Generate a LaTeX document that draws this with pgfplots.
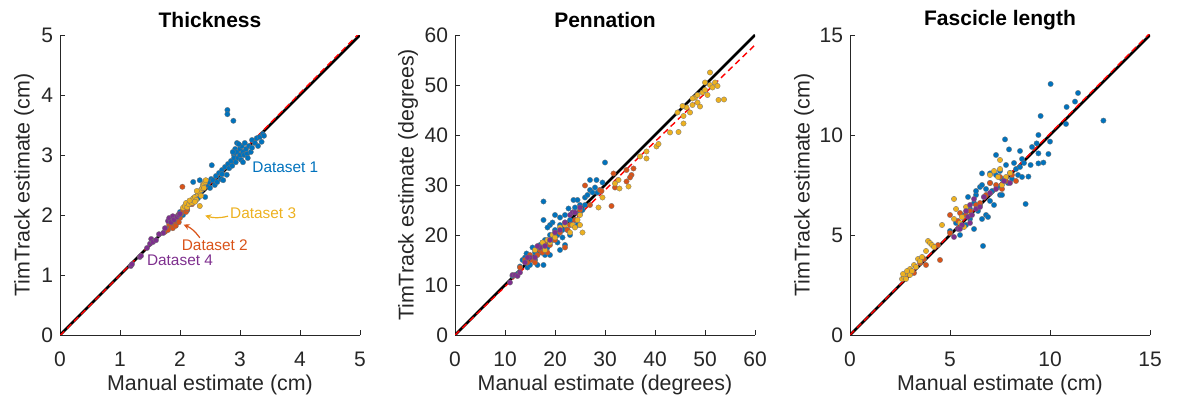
\documentclass[border=0pt]{standalone}
\usepackage{pgfplots}
\pgfplotsset{compat=1.18}
\usepackage{fontspec}
\setmainfont{Liberation Sans}
\usetikzlibrary{arrows.meta}
\definecolor{c1}{rgb}{0,0.447,0.741}
\definecolor{c2}{rgb}{0.85,0.325,0.098}
\definecolor{c3}{rgb}{0.929,0.694,0.125}
\definecolor{c4}{rgb}{0.494,0.184,0.556}
\definecolor{axgray}{rgb}{0.15,0.15,0.15}
\tikzset{ann/.style={inner sep=0pt, font=\fontsize{7.7}{9}\selectfont}}
\pgfplotsset{
  myax/.style={width=150pt,height=150pt,scale only axis,
    axis lines=left, axis line style={-,draw=axgray,line width=0.4pt},
    tick align=inside, tick style={draw=axgray,line width=0.4pt},
    major tick length=2.5pt, enlargelimits=false,
    /pgf/number format/assume math mode=true,
    tick label style={font=\fontsize{10.5}{12}\selectfont, text=axgray},
    label style={font=\fontsize{10.7}{12}\selectfont, text=axgray},
    every axis title shift=0pt,
    title style={font=\bfseries\fontsize{10.5}{12}\selectfont, at={(axis description cs:0.5,1)}, anchor=center, yshift=7.5pt},
    xlabel style={at={(axis description cs:0.5,0)}, anchor=center, yshift=-25pt},
    xticklabel style={yshift=-5pt},
  },
  pts/.style={only marks, mark=*, mark size=1.35pt, mark options={draw=black!55, line width=0.15pt, fill=#1}},
  idline/.style={black, line width=1.4pt},
  fitline/.style={red, line width=0.7pt, dash pattern=on 3pt off 2pt},
}
\begin{document}
\begin{tikzpicture}
\useasboundingbox (-30pt,-32.5pt) rectangle (559pt,167.5pt);
% ---------------- Thickness ----------------
\begin{axis}[myax, at={(0pt,0pt)}, xmin=0,xmax=5,ymin=0,ymax=5,
  xtick={0,1,2,3,4,5}, ytick={0,1,2,3,4,5},
  title={Thickness}, xlabel={Manual estimate (cm)}, ylabel={TimTrack estimate (cm)},
  ylabel style={at={([xshift=-18pt]axis description cs:0,0.5)}, anchor=center}]
\addplot[pts=c1] coordinates {(1.85,1.9)(1.9,1.95)(1.95,1.88)(2.0,2.05)(2.05,2.0)(2.1,2.15)(2.12,2.08)(2.15,2.2)(2.2,2.25)(2.22,2.55)(2.25,2.3)(2.3,2.28)(2.33,2.58)(2.35,2.4)(2.4,2.45)(2.42,2.3)(2.45,2.5)(2.48,2.55)(2.5,2.45)(2.52,2.6)(2.53,2.83)(2.55,2.58)(2.58,2.5)(2.6,2.65)(2.62,2.55)(2.65,2.7)(2.68,2.6)(2.7,2.75)(2.72,2.58)(2.75,2.8)(2.78,2.67)(2.79,3.75)(2.79,3.68)(2.8,2.85)(2.82,2.78)(2.85,2.9)(2.87,2.82)(2.89,3.57)(2.9,3.0)(2.9,2.95)(2.92,3.1)(2.93,2.88)(2.95,3.05)(2.95,3.2)(2.97,2.95)(3.0,3.1)(3.0,3.0)(3.02,2.92)(3.03,3.15)(3.05,3.05)(3.07,3.0)(3.08,3.2)(3.1,3.1)(3.12,3.02)(3.13,2.95)(3.15,3.15)(3.18,3.05)(3.2,3.25)(3.2,3.12)(3.25,3.2)(3.28,3.28)(3.3,3.15)(3.33,3.3)(3.36,3.22)(3.38,3.35)(3.4,3.32)(3.05,2.88)(2.98,3.18)(2.88,3.05)(2.7,2.68)};
\addplot[pts=c2] coordinates {(1.75,1.72)(1.78,1.78)(1.8,1.75)(1.82,1.85)(1.85,1.8)(1.87,1.9)(1.9,1.85)(1.92,1.95)(1.95,1.92)(1.97,2.0)(2.0,1.95)(2.02,2.02)(2.05,2.08)(2.04,2.47)(2.1,2.05)(1.88,1.78)(1.93,1.82)(1.98,1.88)(2.12,2.1)(2.2,2.18)};
\addplot[pts=c3] coordinates {(2.05,2.12)(2.08,2.15)(2.1,2.2)(2.12,2.13)(2.15,2.18)(2.18,2.22)(2.2,2.2)(2.22,2.28)(2.25,2.3)(2.27,2.25)(2.3,2.35)(2.32,2.38)(2.33,2.15)(2.35,2.42)(2.37,2.45)(2.38,2.5)(2.4,2.52)(2.42,2.55)(2.43,2.58)(2.28,2.4)(2.25,2.22)(2.16,2.24)(2.35,2.32)(2.4,2.45)};
\addplot[pts=c4] coordinates {(1.18,1.15)(1.2,1.18)(1.33,1.3)(1.35,1.32)(1.5,1.52)(1.52,1.6)(1.55,1.55)(1.6,1.58)(1.72,1.7)(1.75,1.78)(1.8,1.9)(1.82,1.95)(1.85,1.88)(1.88,1.98)(1.9,1.92)(1.95,1.97)(1.98,2.0)(2.0,2.02)(1.65,1.68)(1.45,1.45)};
\addplot[idline] coordinates {(0,0)(5,5)};
\addplot[fitline] coordinates {(0,-0.01)(5,5.04)};
\node[ann, anchor=west, text=c1] at (axis cs:3.2,2.8) {Dataset 1};
\node[ann, anchor=west, text=c3] at (axis cs:2.83,2.03) {Dataset 3};
\node[ann, anchor=center, text=c2] at (axis cs:2.58,1.5) {Dataset 2};
\node[ann, anchor=center, text=c4] at (axis cs:2.0,1.25) {Dataset 4};
\draw[c3, line width=0.6pt, -{Stealth[length=3pt,width=3pt]}] (axis cs:2.8,1.98) to[bend left=15] (axis cs:2.42,1.99);
\draw[c2, line width=0.6pt, -{Stealth[length=3pt,width=3pt]}] (axis cs:2.33,1.62) to[bend right=15] (axis cs:2.06,1.84);
\end{axis}
% ---------------- Pennation ----------------
\begin{axis}[myax, at={(197.5pt,0pt)}, xmin=0,xmax=60,ymin=0,ymax=60,
  xtick={0,10,...,60}, ytick={0,10,...,60},
  title={Pennation}, xlabel={Manual estimate (degrees)}, ylabel={TimTrack estimate (degrees)},
  ylabel style={at={([xshift=-23.5pt]axis description cs:0,0.5)}, anchor=center}]
\addplot[pts=c1] coordinates {(11.5,11.8)(12.5,12.2)(13,13.7)(13.5,15)(14,15.5)(14.3,16.3)(14.5,13.5)(15,14)(15,15.8)(15.5,17.5)(16,16.5)(16,15)(16.5,17.5)(17,18)(17.3,16.5)(17.5,18.5)(17.7,26.7)(17.7,23)(17.7,14)(18,19)(18,16)(18.5,17.5)(19,16)(19,20)(19.5,19)(19.5,22.5)(20,24)(20,21)(20.5,20)(20.5,18.5)(21,22)(21,23.5)(21.5,21)(21.5,19.5)(22,24)(22,22.5)(22.5,21)(22.7,25.3)(23,23)(23,20)(23.5,24.5)(23.7,27)(24,23)(24,25.5)(24.5,22)(25,26)(25,24.5)(25.5,25)(26,27.5)(26.5,28)(27,31)(27,29)(27.5,28.5)(28,29.5)(28.3,31)(28.5,28.5)(29,29)(29.5,30.5)(30,34.5)(26,26)(21,17)(19,22)(16.5,14)(18.5,21.5)(22,18)(24.5,27)};
\addplot[pts=c2] coordinates {(13,13.5)(14,15)(14.5,14.5)(15,16)(15.5,15)(16,14.5)(16.5,16)(17,17)(17.5,16.5)(18,18.5)(18.5,16.5)(19,18)(20,19)(21,20.5)(22,17.5)(22.5,21)(23,22)(24,23)(25,25)(26,29.9)(27,26)(29,29)(29.3,28.8)(31.3,25.8)(31.7,32.3)(34.3,33)(35.3,32)(35.7,33.3)(34.3,30.7)(35,31.5)(32,29.5)};
\addplot[pts=c3] coordinates {(16,17)(17,17.5)(17.5,18.5)(18,17)(18.5,19)(19,18.5)(19.5,20)(20,19.5)(21,21.5)(22,22)(23,20.5)(23.5,22)(24,21.5)(24.5,23)(25,22)(25.5,20.5)(25,24)(28.7,25.5)(29.5,27.5)(32.7,31)(32.9,29.3)(32,30.3)(34.7,29.7)(37,35.7)(38.3,36.7)(38.3,35.3)(40.3,37.7)(40.7,38.2)(43,40.5)(44.7,40.6)(45.7,42.3)(45.7,43.8)(46.3,45.5)(47,44.5)(47.5,46)(48,47.5)(48.5,48)(49,45.7)(49.5,48.5)(50,49)(50.5,48)(51,52.5)(51,50)(51.5,49.5)(52,50.5)(52.5,49.8)(52.7,47)(53.8,47.1)(48.5,46.5)(50,50.5)(44.5,44.5)(45.5,45.8)(47.5,47.3)};
\addplot[pts=c4] coordinates {(11,10.5)(11.5,12)(12,12)(12.5,11.8)(13,12.5)(14,14.5)(15,15.5)(16,15.5)(17,17.5)(18,17.8)(19,19)(20,20.5)(21,21)(22,22.5)(23,24)(23.5,24.5)(24,24.5)(25,25.5)(16.5,17.8)(14.5,15.5)};
\addplot[idline] coordinates {(0,0)(60,60)};
\addplot[fitline] coordinates {(0,0)(60,58)};
\end{axis}
% ---------------- Fascicle length ----------------
\begin{axis}[myax, at={(395pt,0pt)}, xmin=0,xmax=15,ymin=0,ymax=15,
  xtick={0,5,10,15}, ytick={0,5,10,15},
  title={Fascicle length}, xlabel={Manual estimate (cm)}, ylabel={TimTrack estimate (cm)},
  ylabel style={at={([xshift=-23pt]axis description cs:0,0.5)}, anchor=center}]
\addplot[pts=c1] coordinates {(5,5.2)(5.3,5.6)(5.5,5.0)(5.6,6.0)(5.8,5.5)(6,6.3)(6,5.8)(6.2,6.6)(6.2,5.3)(6.3,7.0)(6.4,6.2)(6.5,7.4)(6.5,6.5)(6.6,7.5)(6.6,5.8)(6.65,4.45)(6.7,6.9)(6.8,7.3)(6.8,6.0)(6.9,5.9)(7,7.6)(7,8.08)(7,6.7)(7.1,7.2)(7.2,6.5)(7.3,9.0)(7.3,8.0)(7.4,7.4)(7.5,8.2)(7.5,7.0)(7.6,7.8)(7.75,9.78)(7.8,8.5)(7.9,7.6)(7.95,9.28)(8,8.1)(8.1,7.8)(8.2,8.6)(8.3,8.3)(8.4,8.0)(8.5,9.2)(8.5,8.4)(8.6,8.8)(8.6,7.9)(8.7,8.6)(8.78,6.55)(8.92,7.92)(9.03,8.5)(9.1,9.4)(9.33,9.58)(9.42,9.08)(9.42,8.58)(9.42,10.0)(9.53,10.95)(9.67,8.62)(9.92,9.05)(10,9.67)(10.03,12.55)(10.8,10.55)(10.83,11.4)(11.25,11.67)(11.4,12.1)(12.67,10.72)(6.6,8.08)(5.9,6.9)(6.3,7.2)(7.6,7.0)};
\addplot[pts=c2] coordinates {(3.2,3.1)(3.5,3.6)(3.7,3.8)(3.8,3.5)(4.5,3.75)(4.4,4.5)(5.0,5.1)(5.0,6.0)(5.4,5.7)(5.5,6.1)(5.8,6.0)(6.0,6.2)(6.3,6.5)(6.5,6.6)(6.8,7.0)(7,7.6)(7.3,7.5)(7.6,7.3)(7.8,7.7)(8.1,8.0)(7.5,7.9)(8.3,7.7)};
\addplot[pts=c3] coordinates {(2.6,2.8)(2.7,2.9)(2.75,3.0)(2.8,2.8)(2.9,3.1)(3.0,3.0)(3.0,3.3)(3.1,3.2)(3.2,3.5)(3.3,3.4)(3.4,3.8)(3.5,3.7)(3.6,3.9)(3.8,4.2)(3.9,4.7)(4.0,4.6)(4.1,4.5)(4.2,4.4)(2.65,3.05)(2.85,3.2)(4.6,5.5)(5.2,6.8)(5.2,5.8)(5.3,6.3)(5.5,5.6)(5.6,5.9)(5.7,5.4)(5.8,6.4)(7,8.0)(7.2,8.2)(7.4,7.9)(7.5,8.75)(7.5,8.3)(7.6,7.5)(7.8,7.9)(8.0,8.1)};
\addplot[pts=c4] coordinates {(5.2,4.9)(5.4,5.3)(5.6,5.5)(5.8,6.2)(5.9,5.9)(6.0,6.5)(6.1,6.0)(6.2,6.8)(6.3,6.3)(6.5,6.4)(6.7,6.9)(7.0,7.1)(7.3,7.3)(7.7,7.7)(8.0,7.6)(5.5,5.3)(6.0,5.6)};
\addplot[idline] coordinates {(0,0)(15,15)};
\addplot[fitline] coordinates {(0,0)(15,15.1)};
\end{axis}
\end{tikzpicture}
\end{document}
